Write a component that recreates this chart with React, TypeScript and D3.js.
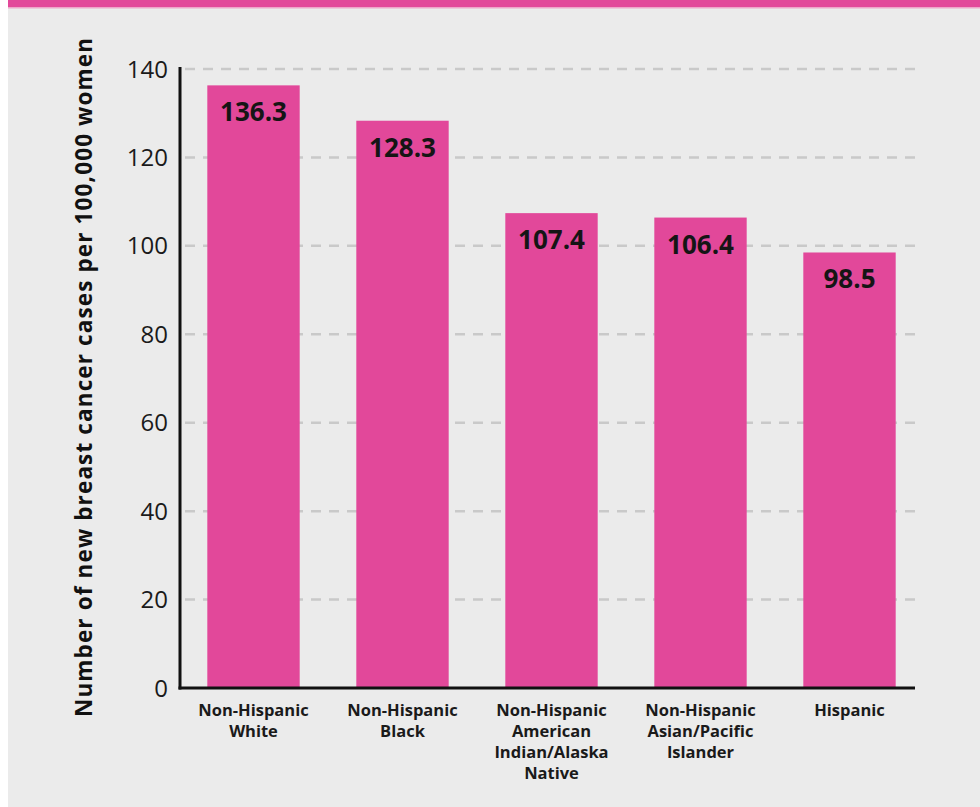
import React from "react";
import * as d3 from "d3";

const categories: string[][] = [
  ["Non-Hispanic", "White"],
  ["Non-Hispanic", "Black"],
  ["Non-Hispanic", "American", "Indian/Alaska", "Native"],
  ["Non-Hispanic", "Asian/Pacific", "Islander"],
  ["Hispanic"],
];
const rates = [136.3, 128.3, 107.4, 106.4, 98.5];
const yTicks = [0, 20, 40, 60, 80, 100, 120, 140];
const yTitle = "Number of new breast cancer cases per 100,000 women";

const W = 980;
const H = 807;
const PINK = "#e2489a";
const BG = "#ebebeb";
const FONT = "'Open Sans', sans-serif";

const App: React.FC = () => {
  const keys = categories.map((c) => c.join(" "));

  const x = d3
    .scaleBand<string>()
    .domain(keys)
    .range([179, 924])
    .paddingInner(0.38)
    .paddingOuter(0.19);

  const y = d3.scaleLinear().domain([0, 140]).range([688, 69]);

  return (
    <div style={{ position: "absolute", left: 0, top: 0 }}>
      <svg width={W} height={H} style={{ display: "block" }}>
        <rect x={0} y={0} width={W} height={H} fill="#ffffff" />
        <rect x={8} y={0} width={W - 8} height={H} fill={BG} />
        <rect x={8} y={0} width={W - 8} height={7} fill={PINK} />
        <rect x={8} y={7} width={W - 8} height={1.5} fill="#eea6c9" />

        {/* gridlines */}
        {yTicks
          .filter((t) => t > 0)
          .map((t) => (
            <line
              key={t}
              x1={185}
              x2={918}
              y1={y(t)}
              y2={y(t)}
              stroke="#c9c9c9"
              strokeWidth={2.5}
              strokeDasharray="10 8"
            />
          ))}

        {/* bars */}
        {rates.map((v, i) => (
          <rect
            key={keys[i]}
            x={x(keys[i])}
            y={y(v)}
            width={x.bandwidth()}
            height={y(0) - y(v)}
            fill={PINK}
          />
        ))}

        {/* value labels */}
        {rates.map((v, i) => (
          <text
            key={"v" + i}
            x={(x(keys[i]) ?? 0) + x.bandwidth() / 2}
            y={y(v) + 36}
            textAnchor="middle"
            fontFamily={FONT}
            fontWeight={700}
            fontSize={26}
            fill="#151515"
          >
            {v.toFixed(1)}
          </text>
        ))}

        {/* axes */}
        <line x1={180} x2={180} y1={67} y2={689.5} stroke="#111" strokeWidth={3} />
        <line x1={178.5} x2={915} y1={688} y2={688} stroke="#111" strokeWidth={3} />

        {/* y tick labels */}
        {yTicks.map((t) => (
          <text
            key={"t" + t}
            x={168}
            y={y(t) + 8.5}
            textAnchor="end"
            fontFamily={FONT}
            fontSize={24}
            fill="#1a1a1a"
          >
            {t}
          </text>
        ))}

        {/* category labels */}
        {categories.map((lines, i) => (
          <text
            key={"c" + i}
            x={(x(keys[i]) ?? 0) + x.bandwidth() / 2}
            y={716}
            textAnchor="middle"
            fontFamily={FONT}
            fontWeight={700}
            fontSize={16.5}
            fill="#1a1a1a"
          >
            {lines.map((l, j) => (
              <tspan key={j} x={(x(keys[i]) ?? 0) + x.bandwidth() / 2} dy={j === 0 ? 0 : 21}>
                {l}
              </tspan>
            ))}
          </text>
        ))}

        {/* y title */}
        <text
          transform={`translate(92, ${(38 + 717) / 2}) rotate(-90)`}
          textAnchor="middle"
          fontFamily={FONT}
          fontWeight={700}
          fontSize={22.5}
          textLength={679}
          lengthAdjust="spacing"
          fill="#111"
        >
          {yTitle}
        </text>
      </svg>
    </div>
  );
};

export default App;
